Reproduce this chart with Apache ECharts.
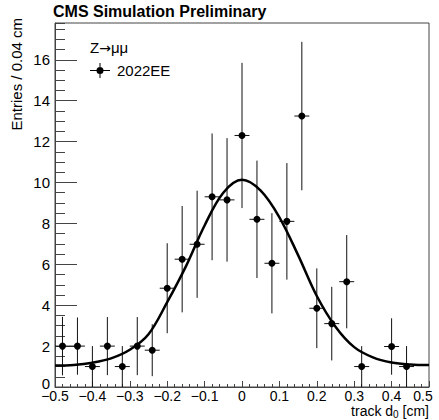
<!DOCTYPE html>
<html>
<head>
<meta charset="utf-8">
<title>track d0 - Z→μμ 2022EE</title>
<script src="https://cdn.jsdelivr.net/npm/echarts@6/dist/echarts.min.js"></script>
<style>
  html, body { margin: 0; padding: 0; background: #fff; }
  #chart { width: 439px; height: 420px; }
</style>
</head>
<body>
<div id="chart"></div>
<script>
// ── data ─────────────────────────────────────────────────────────
// bin centres (0.04 cm bins), null = empty bin (not drawn)
const binCenters = [-0.48, -0.44, -0.40, -0.36, -0.32, -0.28, -0.24, -0.20, -0.16, -0.12,
                    -0.08, -0.04, 0.00, 0.04, 0.08, 0.12, 0.16, 0.20, 0.24, 0.28,
                    0.32, 0.36, 0.40, 0.44, 0.48]
const entries    = [2.0, 2.0, 1.0, 2.0, 1.0, 2.0, 1.8, 4.83, 6.25, 6.98,
                    9.3, 9.15, 12.3, 8.2, 6.05, 8.1, 13.25, 3.85, 3.1, 5.15,
                    1.0, null, 1.98, 1.0, null]
const errors     = [1.43, 1.4, 1.0, 1.42, 1.0, 1.42, 1.27, 2.2, 2.6, 2.62,
                    3.1, 3.02, 3.55, 2.87, 2.45, 2.85, 3.63, 1.95, 1.8, 2.28,
                    1.0, null, 1.38, 1.0, null]

// fitted curve, sampled by eye
const fitX = [-0.50, -0.45, -0.40, -0.35, -0.30, -0.25, -0.20, -0.15, -0.10, -0.05,
              0.00, 0.05, 0.10, 0.15, 0.20, 0.25, 0.30, 0.35, 0.40, 0.45, 0.50]
const fitY = [1.05, 1.08, 1.19, 1.40, 1.82, 2.58, 4.15, 5.9, 7.9, 9.5,
              10.13, 9.6, 8.3, 6.45, 4.45, 2.95, 1.95, 1.45, 1.2, 1.1, 1.07]

const yTicks = [0, 2, 4, 6, 8, 10, 12, 14, 16]

const HALF_BIN = 0.02
const FONT = '"Liberation Sans", Arial, Helvetica, sans-serif'
const AXIS = '#444'

const points = []
const bars = []
binCenters.forEach((x, i) => {
  if (entries[i] == null) return
  points.push([x, entries[i]])
  bars.push([x, entries[i], errors[i]])
})
const fitData = fitX.map((x, i) => [x, fitY[i]])

const fmtX = v => {
  const r = Math.round(v * 10) / 10
  const s = String(r).replace('-', '\u2212')
  return r === 0.5 ? '{last|' + s + '}' : s
}
const fmtY = v => {
  if (!yTicks.includes(v)) return ''
  return v === 0 ? '{zero|0}' : String(v)
}

// ── chart ────────────────────────────────────────────────────────
const chart = echarts.init(document.getElementById('chart'), null, { renderer: 'svg' })

chart.setOption({
  animation: false,
  backgroundColor: '#fff',
  textStyle: { fontFamily: FONT },
  title: [
    {
      text: 'CMS Simulation Preliminary',
      left: 53, top: 3, padding: 0,
      textStyle: { fontFamily: FONT, fontSize: 16, fontWeight: 'bold', color: '#000' },
    },
    {
      text: 'Z{arr|\u2192}\u03bc\u03bc',
      left: 90, top: 40, padding: 0,
      textStyle: {
        fontFamily: FONT, fontSize: 15, fontWeight: 'normal', color: '#000',
        rich: { arr: { fontFamily: '"DejaVu Sans", sans-serif', fontSize: 14, color: '#000' } },
      },
    },
    {
      text: 'track d{sub|0} [cm]',
      right: 10, top: 404, padding: 0,
      textStyle: {
        fontFamily: FONT, fontSize: 14, lineHeight: 14, fontWeight: 'normal', color: '#000',
        rich: { sub: { fontFamily: FONT, fontSize: 10, lineHeight: 14, color: '#000', padding: [6, 0, 0, 0] } },
      },
    },
  ],
  graphic: [
    {
      type: 'text',
      x: 16, y: 18,
      rotation: Math.PI / 2,
      style: {
        text: 'Entries / 0.04 cm',
        font: '15px ' + FONT,
        fill: '#000',
        align: 'right',
        verticalAlign: 'middle',
      },
    },
  ],
  legend: {
    left: 90, top: 63,
    itemWidth: 20, itemHeight: 15, itemGap: 5,
    padding: 0,
    data: [{
      name: '2022EE',
      icon: 'path://M0,7 L20,7 L20,8 L0,8 Z M9.5,0 L10.5,0 L10.5,15 L9.5,15 Z M13.5,7.5 A3.5,3.5 0 1 1 6.5,7.5 A3.5,3.5 0 1 1 13.5,7.5 Z',
    }],
    itemStyle: { color: '#000', opacity: 1 },
    textStyle: { fontFamily: FONT, fontSize: 15, color: '#000', padding: [0, 0, 0, 2] },
    selectedMode: false,
  },
  grid: {
    left: 55, right: 10, top: 23, bottom: 33,
    show: true, borderColor: AXIS, borderWidth: 1,
    containLabel: false,
    outerBoundsMode: 'none',
  },
  xAxis: {
    type: 'value',
    min: -0.5, max: 0.5, interval: 0.1,
    axisLine: { show: true, onZero: false, lineStyle: { color: AXIS } },
    axisTick: { show: true, inside: true, length: 6, lineStyle: { color: AXIS } },
    minorTick: { show: true, splitNumber: 5, length: 3, lineStyle: { color: AXIS } },
    splitLine: { show: false },
    axisLabel: {
      fontFamily: FONT, fontSize: 14, lineHeight: 14, color: '#000', margin: 2,
      formatter: fmtX,
      rich: { last: { fontFamily: FONT, fontSize: 14, lineHeight: 14, color: '#000', padding: [0, 12, 0, 0] } },
    },
  },
  yAxis: [
    {
      type: 'value',
      min: 0, max: 17.8, interval: 2,
      position: 'left',
      axisLine: { show: true, onZero: false, lineStyle: { color: AXIS } },
      axisTick: { show: true, inside: true, length: 22, lineStyle: { color: AXIS } },
      splitLine: { show: false },
      axisLabel: {
        fontFamily: FONT, fontSize: 15, color: '#000', margin: 5,
        showMaxLabel: false,
        formatter: fmtY,
        rich: { zero: { fontFamily: FONT, fontSize: 15, color: '#000', padding: [0, 0, 8, 0] } },
      },
    },
    {
      // minor ticks every 0.5
      type: 'value',
      min: 0, max: 17.8, interval: 0.5,
      position: 'left', offset: 0,
      axisLine: { show: false, onZero: false },
      axisTick: { show: true, inside: true, length: 10, lineStyle: { color: AXIS } },
      axisLabel: { show: false },
      splitLine: { show: false },
    },
  ],
  series: [
    {
      name: 'errors',
      type: 'custom',
      data: bars,
      z: 2,
      silent: true,
      renderItem(params, api) {
        const x = api.value(0), y = api.value(1), e = api.value(2)
        const top = api.coord([x, y + e])
        const bot = api.coord([x, Math.max(y - e, 0)])
        const l = api.coord([x - HALF_BIN, y])
        const r = api.coord([x + HALF_BIN, y])
        const st = { stroke: '#111', lineWidth: 1 }
        return {
          type: 'group',
          children: [
            { type: 'line', shape: { x1: top[0], y1: top[1], x2: bot[0], y2: bot[1] }, style: st },
            { type: 'line', shape: { x1: l[0], y1: l[1], x2: r[0], y2: r[1] }, style: st },
          ],
        }
      },
    },
    {
      name: '2022EE',
      type: 'scatter',
      data: points,
      symbol: 'circle',
      symbolSize: 7,
      itemStyle: { color: '#000', opacity: 1 },
      z: 3,
    },
    {
      name: 'fit',
      type: 'line',
      data: fitData,
      smooth: 0.35,
      showSymbol: false,
      lineStyle: { color: '#000', width: 2.5 },
      z: 4,
    },
  ],
})
</script>
</body>
</html>
